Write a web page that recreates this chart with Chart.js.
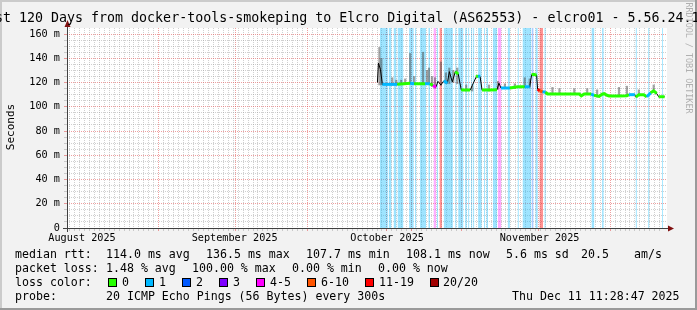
<!DOCTYPE html>
<html>
<head>
<meta charset="utf-8">
<script src="https://cdn.jsdelivr.net/npm/chart.js@4.4.1/dist/chart.umd.min.js"></script>
<style>
html, body { margin: 0; padding: 0; background: #f2f2f2; }
canvas { display: block; }
</style>
</head>
<body>
<canvas id="smoke" width="697" height="310"></canvas>
<script>
// x values are days since the graph start (Aug 13 2025 11:28), y values in ms
var medianDay = [62.1,62.3,62.7,63.1,64.7,66.1,67.5,68.7,69.5,70.7,71.7,72.7,73.3,73.9,74.3,74.9,75.5,76.2,76.6,77.2,
  77.8,78.4,79.0,79.4,80.8,82.0,82.4,82.8,83.2,84.8,86.2,86.6,87.0,88.8,90.4,91.8,92.8,93.2,93.6,94.2,
  94.4,94.8,95.4,96.0,96.4,98.8,100.8,102.8,103.2,103.8,105.2,105.8,106.8,107.4,107.8,108.4,108.8,110.8,112.4,112.8,
  114.0,114.2,114.8,115.8,116.4,117.2,117.8,118.4,118.8,120.0];
var medianMs = [120,136,131,118.5,118.5,118.5,119,119.5,119,119,119,119,117.5,116,121,118,121.5,119.5,129,120.5,
  129,127,114,113.8,113.8,124.5,125.5,125,113.8,113.8,114,119.5,115.5,115.5,116.5,116.5,116.5,126.5,126.8,126,
  114.6,113.2,112.4,112,110.6,110.6,110.6,110.6,109,110.6,110.5,109.5,108.6,110.4,110.8,109.5,109,109,109.2,110,
  110,108,110,110,108.3,111.5,113.2,111,108.3,108.3];
// lost pings (of 20) for the segment that starts at each median point
var medianLoss = [1,0,1,1,1,0,0,1,0,0,1,0,4,0,1,6,1,0,0,1,
  0,1,0,0,0,0,1,0,0,0,0,4,1,0,0,1,0,0,0,0,
  11,6,1,0,0,0,0,0,0,0,1,0,0,0,0,0,0,0,0,1,
  0,0,0,0,1,0,0,0,0,0];

var smokeDay = [62.5,62.9,65.1,65.9,66.9,67.7,68.7,69.5,71.3,72.1,72.5,73.1,73.7,74.9,75.9,76.6,77.4,78.2,80.0,81.2,
  84.6,86.4,87.8,89.8,91.8,92.8,97.4,98.8,101.8,104.4,106.4,110.8,112.4,114.8,117.8];
var smokeLow = [118,118,118,118,118.5,118.5,119,118.5,118.5,118.5,118.5,117,115.5,117.5,119,119,120,119,113,113,
  113,114.5,115,115,116,116,110,110,110,110,108,108.5,108.5,109.5,112];
var smokeHigh = [149,140,124,122,122,123,144,125,145,130,132,125,124,137,128,132,130,132,118,117,
  118,121,119,119,124,123,116,115,115,115,114,116,117,114,118];

// loss background bands [startDay, endDay]
var lossBands1 = [[62.6,64.2],[64.4,64.9],[65.4,65.9],[66.2,67.3],[68.5,69.4],[69.7,69.9],[70.7,71.9],[72.4,72.7],
  [74.1,74.3],[75.5,77.3],[77.8,78.0],[78.4,79.4],[79.8,80.1],[80.4,80.6],[81.0,81.2],[81.4,81.6],[82.4,83.1],
  [83.6,83.8],[84.1,84.4],[84.8,85.0],[85.4,86.2],[88.4,88.8],[90.4,90.6],[91.4,93.1],[94.0,94.4],[95.8,96.0],
  [105.3,105.8],[107.4,107.7],[114.2,114.4],[116.7,116.9],[119.5,119.7]];
var lossBands2 = [[93.2,93.6]];
var lossBands45 = [[73.4,73.9],[86.4,87.1]];
var lossBands1119 = [[74.6,75.1],[94.8,95.5]];

var monthStartDays = [18.52, 48.52, 79.52, 109.52];
var monthLabelDays = [3.0, 33.52, 64.02, 94.52];
var monthLabels = ['August 2025', 'September 2025', 'October 2025', 'November 2025'];
var yLabelValues = [0, 20, 40, 60, 80, 100, 120, 140, 160];

var Y_MAX = 165;
var MONO = 'DejaVu Sans Mono';

function lossColor(n) {
  if (n === 0) return '#26ff00';
  if (n === 1) return '#00b8ff';
  if (n === 2) return '#0059ff';
  if (n === 3) return '#7e00ff';
  if (n <= 5) return '#ff00ff';
  if (n <= 10) return '#ff5500';
  if (n <= 19) return '#ff0000';
  return '#a10000';
}

function bandPoints(bands) {
  var pts = [];
  bands.forEach(function(b) {
    pts.push({x: b[0], y: 0}, {x: b[0], y: Y_MAX}, {x: b[1], y: Y_MAX}, {x: b[1], y: 0});
  });
  return pts;
}

function bandSet(bands, color) {
  return {
    type: 'line', data: bandPoints(bands), xAxisID: 'x', yAxisID: 'y',
    borderWidth: 0, pointRadius: 0, fill: 'origin', backgroundColor: color, order: 10
  };
}

var medianPts = medianDay.map(function(d, i) { return {x: d, y: medianMs[i]}; });

var xGrid = [];
for (var k = 0; k < 120; k++) xGrid.push(0.52 + k);
var yGrid = [];
for (var v = 0; v <= 160; v += 5) yGrid.push(v);

var MAJOR = 'rgba(224,80,80,0.55)';
var MINOR = 'rgba(150,150,150,0.45)';

var decor = {
  id: 'decor',
  beforeDraw: function(chart) {
    var c = chart.ctx, a = chart.chartArea;
    c.save();
    c.fillStyle = '#f2f2f2'; c.fillRect(0, 0, 697, 310);
    c.fillStyle = '#cbcbcb'; c.fillRect(0, 0, 697, 2); c.fillRect(0, 0, 2, 310);
    c.fillStyle = '#9a9a9a'; c.fillRect(0, 308, 697, 2); c.fillRect(695, 0, 2, 310);
    c.fillStyle = '#ffffff'; c.fillRect(a.left, a.top, a.right - a.left, a.bottom - a.top);
    c.restore();
  },
  afterDraw: function(chart) {
    var c = chart.ctx, a = chart.chartArea;
    c.save();
    // axes
    c.strokeStyle = '#404040'; c.lineWidth = 1;
    c.beginPath(); c.moveTo(a.left - 4, a.bottom + 0.5); c.lineTo(a.right + 2, a.bottom + 0.5); c.stroke();
    c.beginPath(); c.moveTo(a.left + 0.5, a.bottom + 4); c.lineTo(a.left + 0.5, a.top - 2); c.stroke();
    c.fillStyle = '#801010';
    c.beginPath(); c.moveTo(a.right + 7, a.bottom + 0.5); c.lineTo(a.right + 1, a.bottom - 2.5); c.lineTo(a.right + 1, a.bottom + 3.5); c.fill();
    c.beginPath(); c.moveTo(a.left + 0.5, a.top - 8); c.lineTo(a.left - 2.5, a.top - 1); c.lineTo(a.left + 3.5, a.top - 1); c.fill();

    // title
    c.fillStyle = '#000';
    c.font = '13.3px "' + MONO + '"';
    c.textAlign = 'left'; c.textBaseline = 'alphabetic';
    c.fillText('Last 120 Days from docker-tools-smokeping to Elcro Digital (AS62553) - elcro01 - 5.56.24.1', -21, 22);

    // unit label
    c.save();
    c.translate(11, 127); c.rotate(-Math.PI / 2);
    c.font = '11px "' + MONO + '"'; c.textAlign = 'center'; c.textBaseline = 'middle';
    c.fillText('Seconds', 0, 0);
    c.restore();

    // watermark
    c.save();
    c.translate(688, 58); c.rotate(Math.PI / 2);
    c.font = '8.4px "' + MONO + '"'; c.textAlign = 'center'; c.textBaseline = 'middle';
    c.fillStyle = '#b0b0b0';
    c.fillText('RRDTOOL / TOBI OETIKER', 0, 0);
    c.restore();

    // legend
    c.font = '11.6px "' + MONO + '"';
    c.fillStyle = '#000';
    c.textAlign = 'left'; c.textBaseline = 'alphabetic';
    var rows = [
      [258, [[15, 'median rtt:'], [106, '114.0 ms avg'], [206, '136.5 ms max'], [306, '107.7 ms min'], [406, '108.1 ms now'], [506, '5.6 ms sd'], [581, '20.5'], [634, 'am/s']]],
      [272, [[15, 'packet loss:'], [106, '1.48 % avg'], [192, '100.00 % max'], [292, '0.00 % min'], [378, '0.00 % now']]],
      [286, [[15, 'loss color:']]],
      [300, [[15, 'probe:'], [106, '20 ICMP Echo Pings (56 Bytes) every 300s'], [512, 'Thu Dec 11 11:28:47 2025']]]
    ];
    rows.forEach(function(r) {
      r[1].forEach(function(t) { c.fillText(t[1], t[0], r[0]); });
    });
    var boxes = [[108, 0, '0', 122], [145, 1, '1', 159], [182, 2, '2', 196], [219, 3, '3', 233],
      [256, 4, '4-5', 270], [307, 6, '6-10', 321], [365, 11, '11-19', 379], [430, 20, '20/20', 443]];
    boxes.forEach(function(b) {
      c.fillStyle = lossColor(b[1]);
      c.fillRect(b[0], 278, 9, 9);
      c.strokeStyle = '#000'; c.lineWidth = 1;
      c.strokeRect(b[0] + 0.5, 278.5, 8, 8);
      c.fillStyle = '#000';
      c.fillText(b[2], b[3], 286);
    });
    c.restore();
  }
};

var chart = new Chart(document.getElementById('smoke'), {
  type: 'line',
  data: {
    datasets: [
      bandSet(lossBands1, 'rgba(0,184,255,0.38)'),
      bandSet(lossBands2, 'rgba(0,89,255,0.32)'),
      bandSet(lossBands45, 'rgba(255,0,255,0.32)'),
      bandSet(lossBands1119, 'rgba(255,0,0,0.42)'),
      {
        type: 'bar', xAxisID: 'x', yAxisID: 'y', order: 8,
        data: smokeDay.map(function(d, i) { return {x: d, y: [smokeLow[i], smokeHigh[i]]}; }),
        backgroundColor: 'rgba(70,70,70,0.5)', barThickness: 1.5, borderWidth: 0
      },
      {
        type: 'line', xAxisID: 'x', yAxisID: 'y', order: 6,
        data: medianPts, borderColor: '#000', borderWidth: 1, pointRadius: 0, fill: false, tension: 0
      },
      {
        type: 'line', xAxisID: 'x', yAxisID: 'y', order: 4,
        data: medianPts, borderWidth: 3, borderCapStyle: 'butt', pointRadius: 0, fill: false, tension: 0,
        segment: {
          borderColor: function(ctx) {
            var dx = (ctx.p1.parsed.x - ctx.p0.parsed.x) * 5;
            var dy = Math.abs(ctx.p1.parsed.y - ctx.p0.parsed.y) * 1.21;
            if (dy > dx * 1.2) return 'rgba(0,0,0,0)';
            return lossColor(medianLoss[ctx.p0DataIndex]);
          }
        }
      }
    ]
  },
  options: {
    responsive: false,
    animation: false,
    devicePixelRatio: 1,
    layout: { padding: { top: 28, right: 30, left: 0, bottom: 0 } },
    plugins: { legend: { display: false }, tooltip: { enabled: false }, title: { display: false } },
    scales: {
      x: {
        type: 'linear', position: 'bottom', min: 0, max: 120,
        afterBuildTicks: function(s) { s.ticks = xGrid.concat(monthStartDays).map(function(d) { return {value: d}; }); },
        afterFit: function(s) { s.height = 0; },
        ticks: { display: false },
        grid: {
          color: function(ctx) {
            if (!ctx.tick) return MINOR;
            return monthStartDays.indexOf(ctx.tick.value) >= 0 ? MAJOR : MINOR;
          },
          drawTicks: true, tickLength: 3
        },
        border: { display: false, dash: [1, 1] }
      },
      x2: {
        type: 'linear', position: 'bottom', min: 0, max: 120,
        afterBuildTicks: function(s) { s.ticks = monthLabelDays.map(function(d) { return {value: d}; }); },
        afterFit: function(s) { s.height = 82; },
        ticks: {
          autoSkip: false, maxRotation: 0, minRotation: 0, padding: 4, color: '#000',
          font: { family: MONO, size: 10.2 },
          callback: function(val, i) { return monthLabels[i]; }
        },
        grid: { display: false, drawTicks: false },
        border: { display: false }
      },
      y: {
        type: 'linear', position: 'left', min: 0, max: Y_MAX,
        afterBuildTicks: function(s) { s.ticks = yGrid.map(function(v) { return {value: v}; }); },
        afterFit: function(s) { s.width = 67; },
        ticks: {
          autoSkip: false, padding: 4, color: '#000',
          font: { family: MONO, size: 10.2 },
          callback: function(val) {
            if (yLabelValues.indexOf(val) < 0) return '';
            return val === 0 ? '0' : val + ' m';
          }
        },
        grid: {
          color: function(ctx) {
            if (!ctx.tick) return MINOR;
            return ctx.tick.value % 20 === 0 ? MAJOR : MINOR;
          },
          drawTicks: true, tickLength: 3
        },
        border: { display: false, dash: [1, 1] }
      }
    }
  },
  plugins: [decor]
});
</script>
</body>
</html>
